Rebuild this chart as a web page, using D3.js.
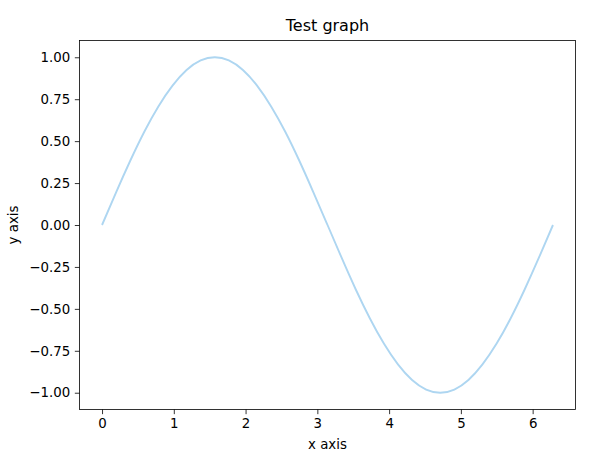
<!DOCTYPE html>
<html><head><meta charset="utf-8">
<script src="https://cdn.jsdelivr.net/npm/d3@7"></script>
<style>
html,body{margin:0;padding:0;background:#fff;}
text{font-family:"DejaVu Sans",sans-serif;fill:#000;}
</style></head>
<body>
<svg id="chart" width="592" height="456"></svg>
<script>
const xValues = [0, 0.196, 0.393, 0.589, 0.785, 0.982, 1.178, 1.374, 1.571, 1.767, 1.963, 2.160, 2.356, 2.553, 2.749, 2.945, 3.142, 3.338, 3.534, 3.731, 3.927, 4.123, 4.320, 4.516, 4.712, 4.909, 5.105, 5.301, 5.498, 5.694, 5.890, 6.087, 6.283];
const yValues = [0, 0.195, 0.383, 0.556, 0.707, 0.831, 0.924, 0.981, 1.000, 0.981, 0.924, 0.831, 0.707, 0.556, 0.383, 0.195, 0, -0.195, -0.383, -0.556, -0.707, -0.831, -0.924, -0.981, -1.000, -0.981, -0.924, -0.831, -0.707, -0.556, -0.383, -0.195, 0];
const xTicks = [0, 1, 2, 3, 4, 5, 6];
const yTicks = [-1.00, -0.75, -0.50, -0.25, 0.00, 0.25, 0.50, 0.75, 1.00];
const titleText = "Test graph";
const xLabel = "x axis";
const yLabel = "y axis";

(function () {
const svg = d3.select("#chart");
const mLeft = 79.5, mRight = 575.5, mTop = 40.5, mBottom = 409.5;
const x = d3.scaleLinear().domain([-0.314, 6.597]).range([mLeft, mRight]);
const y = d3.scaleLinear().domain([-1.1, 1.1]).range([mBottom, mTop]);
const fs = 13.33;
const fmtY = v => d3.format(".2f")(v).replace("-", "\u2212");

const data = xValues.map((v, i) => [v, yValues[i]]);
svg.append("path").datum(data)
  .attr("fill", "none").attr("stroke", "#aed6f1").attr("stroke-width", 1.9)
  .attr("d", d3.line().x(d => x(d[0])).y(d => y(d[1])).curve(d3.curveNatural));

const xAxis = svg.append("g").attr("transform", `translate(0,${mBottom})`)
  .call(d3.axisBottom(x).tickValues(xTicks).tickSize(4.67).tickPadding(4.67).tickFormat(d3.format("d")));
const yAxis = svg.append("g").attr("transform", `translate(${mLeft},0)`)
  .call(d3.axisLeft(y).tickValues(yTicks).tickSize(4.67).tickPadding(4.67).tickFormat(fmtY));
[xAxis, yAxis].forEach(g => {
  g.select(".domain").remove();
  g.selectAll("line").attr("stroke", "#000").attr("stroke-width", 0.8);
  g.selectAll("text").attr("font-size", fs).attr("font-family", "DejaVu Sans").attr("fill", "#000");
});

svg.append("rect").attr("x", mLeft).attr("y", mTop).attr("width", mRight - mLeft).attr("height", mBottom - mTop)
  .attr("fill", "none").attr("stroke", "#000").attr("stroke-width", 0.8);

svg.append("text").attr("x", (mLeft + mRight) / 2).attr("y", 30.5).attr("text-anchor", "middle")
  .attr("font-size", 16).text(titleText);
svg.append("text").attr("x", (mLeft + mRight) / 2).attr("y", 449).attr("text-anchor", "middle")
  .attr("font-size", fs).text(xLabel);
svg.append("text").attr("transform", `translate(18,${(mTop + mBottom) / 2}) rotate(-90)`).attr("text-anchor", "middle")
  .attr("font-size", fs).text(yLabel);
})();
</script>
</body></html>
